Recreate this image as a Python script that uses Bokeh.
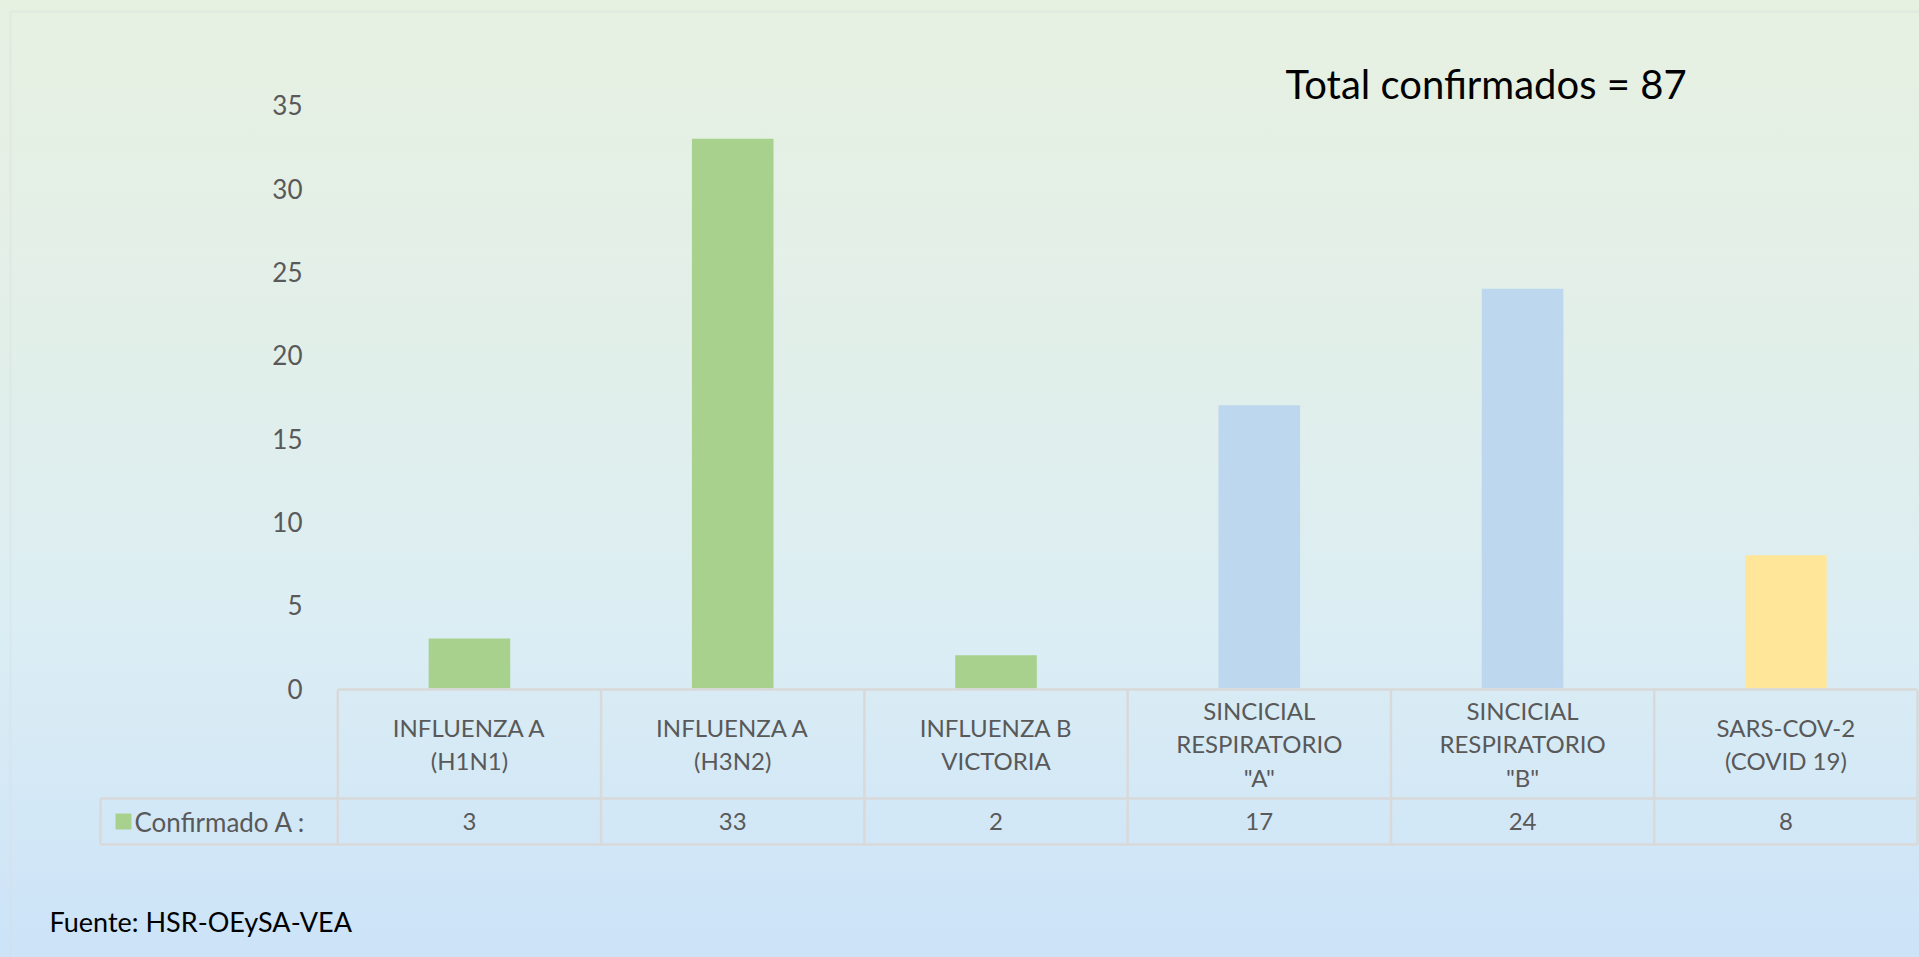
from bokeh.plotting import figure
from bokeh.models import Range1d, Label, BoxAnnotation, ColumnDataSource
from bokeh.core.properties import value
from bokeh.embed import file_html
from bokeh.resources import INLINE

# ---- data ----
categories = [
    "INFLUENZA A\n(H1N1)",
    "INFLUENZA A\n(H3N2)",
    "INFLUENZA B\nVICTORIA",
    "SINCICIAL\nRESPIRATORIO\n\"A\"",
    "SINCICIAL\nRESPIRATORIO\n\"B\"",
    "SARS-COV-2\n(COVID 19)",
]
confirmados = [3, 33, 2, 17, 24, 8]
bar_colors = ["#A9D18E", "#A9D18E", "#A9D18E", "#BDD7EE", "#BDD7EE", "#FFE699"]
y_ticks = [0, 5, 10, 15, 20, 25, 30, 35]
series_name = "Confirmado A :"
total_text = "Total confirmados = 87"
source_text = "Fuente: HSR-OEySA-VEA"

# ---- layout constants ----
W, H = 1919, 957
left_px = 337.3         # canvas x of first column's left border
right_px = 1917.0
n = len(categories)
col_px = (right_px - left_px) / n
ypx = 16.66             # px per y unit
y0_px = 688             # canvas y (from top) of value 0

xmin = -0.5 - left_px / col_px
xmax = xmin + W / col_px
ymax = y0_px / ypx
ymin = -(H - y0_px) / ypx

p = figure(width=W, height=H, output_backend="svg", toolbar_location=None,
           x_range=Range1d(xmin, xmax), y_range=Range1d(ymin, ymax),
           x_axis_location=None, y_axis_location=None, min_border=0)
p.grid.visible = False
p.outline_line_color = None
p.background_fill_alpha = 0
p.border_fill_alpha = 0
grad = "linear-gradient(to bottom, #E7F1E2 0%, #E2EFE9 35%, #DCEEF4 65%, #CCE3F8 100%)"
p.styles = {"background": grad}

idx = list(range(n))

# bars
src = ColumnDataSource(dict(x=idx, top=confirmados, color=bar_colors,
                            label=categories, val=[str(v) for v in confirmados]))
p.vbar(x="x", top="top", bottom=0, width=0.31, fill_color="color", line_color=None, source=src)

# y tick labels
tick_x = xmin + 302 / col_px
p.text(x=[tick_x] * len(y_ticks), y=y_ticks, text=[str(t) for t in y_ticks],
       text_align="right", text_baseline="middle", text_color="#595959",
       text_font=value("Lato"), text_font_size="26px")

# data table
row_top = -1 / ypx
row_mid = -110 / ypx
row_bot = -156 / ypx
legend_left = xmin + 100 / col_px
grid_color = "#D9D9D9"
lw = 2.5
p.segment(x0=[-0.5, legend_left, legend_left], x1=[n - 0.5] * 3,
          y0=[row_top, row_mid, row_bot], y1=[row_top, row_mid, row_bot],
          line_color=grid_color, line_width=lw)
vx = [i - 0.5 for i in range(n + 1)]
p.segment(x0=vx, x1=vx, y0=[row_top] * len(vx), y1=[row_bot] * len(vx),
          line_color=grid_color, line_width=lw)
p.segment(x0=[legend_left], x1=[legend_left], y0=[row_mid], y1=[row_bot],
          line_color=grid_color, line_width=lw)

# category labels
p.text(x="x", y=(row_top + row_mid) / 2, text="label", source=src,
       text_align="center", text_baseline="middle", text_color="#595959",
       text_font=value("Lato"), text_font_size="24px", text_line_height=1.17)
# values
val_y = (row_mid + row_bot) / 2
p.text(x="x", y=val_y, text="val", source=src,
       text_align="center", text_baseline="middle", text_color="#595959",
       text_font=value("Lato"), text_font_size="24px")

# legend key + series name
p.scatter(x=[xmin + 123 / col_px], y=[val_y], marker="square", size=16,
          fill_color=bar_colors[0], line_color=None)
p.text(x=[xmin + 134 / col_px], y=[val_y], text=[series_name],
       text_align="left", text_baseline="middle", text_color="#595959",
       text_font=value("Lato"), text_font_size="26px")

# outer chart border
p.add_layout(BoxAnnotation(left=10, right=W + 50, top=H - 11, bottom=-50,
                           left_units="screen", right_units="screen",
                           top_units="screen", bottom_units="screen",
                           fill_alpha=0, line_color="#D9D9D9", line_width=2.5))

# annotations
p.add_layout(Label(x=1285, y=H - 83, x_units="screen", y_units="screen",
                   text=total_text, text_baseline="middle", text_color="#000000",
                   text_font="Lato", text_font_size="40px"))
p.add_layout(Label(x=49, y=H - 921, x_units="screen", y_units="screen",
                   text=source_text, text_baseline="middle", text_color="#000000",
                   text_font="Lato", text_font_size="27px"))

html = file_html(p, INLINE)
html = html.replace("<body>", '<body style="background: %s; background-attachment: fixed;">' % grad, 1)
open("out.html", "w").write(html)
